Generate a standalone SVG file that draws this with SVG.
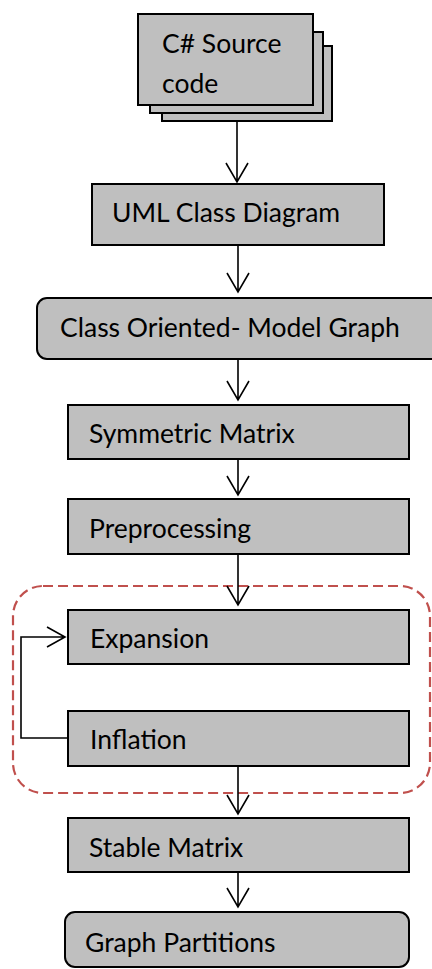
<svg xmlns="http://www.w3.org/2000/svg" width="432" height="969" viewBox="0 0 432 969">
  <style>
    .box { fill: #bfbfbf; stroke: #000; stroke-width: 2; }
    .lbl { font-family: Lato, "Open Sans", "Liberation Sans", sans-serif; font-size: 26.5px; fill: #000; }
    .wire { fill: none; stroke: #000; stroke-width: 1.6; }
    .loop { fill: none; stroke: #c0504d; stroke-width: 2.2; stroke-dasharray: 10 5; }
  </style>

  <!-- iteration group -->
  <rect class="loop" x="13" y="586" width="417" height="207" rx="30" ry="30"/>

  <!-- stacked source documents -->
  <g id="source">
    <rect class="box" x="162" y="46" width="170" height="75"/>
    <rect class="box" x="150" y="32" width="173" height="81"/>
    <rect class="box" x="138" y="14" width="175" height="91"/>
    <text class="lbl" x="162" y="53">C# Source</text>
    <text class="lbl" x="162" y="93">code</text>
  </g>

  <g id="uml">
    <rect class="box" x="92" y="184" width="292" height="61"/>
    <text class="lbl" x="112" y="222">UML Class Diagram</text>
  </g>

  <g id="model-graph">
    <rect class="box" x="37" y="298" width="410" height="61" rx="10" ry="10"/>
    <text class="lbl" x="60" y="337">Class Oriented- Model Graph</text>
  </g>

  <g id="symmetric">
    <rect class="box" x="68" y="405" width="341" height="54"/>
    <text class="lbl" x="89" y="443">Symmetric Matrix</text>
  </g>

  <g id="preprocessing">
    <rect class="box" x="68" y="499" width="341" height="55"/>
    <text class="lbl" x="89" y="538">Preprocessing</text>
  </g>

  <g id="expansion">
    <rect class="box" x="68" y="610" width="341" height="54"/>
    <text class="lbl" x="90" y="648">Expansion</text>
  </g>

  <g id="inflation">
    <rect class="box" x="68" y="711" width="341" height="55"/>
    <text class="lbl" x="90" y="749">Inflation</text>
  </g>

  <g id="stable">
    <rect class="box" x="68" y="818" width="341" height="54"/>
    <text class="lbl" x="89" y="857">Stable Matrix</text>
  </g>

  <g id="partitions">
    <rect class="box" x="65" y="912" width="344" height="55" rx="10" ry="10"/>
    <text class="lbl" x="85" y="952">Graph Partitions</text>
  </g>

  <!-- connectors with open chevron heads -->
  <g id="connectors">
    <path class="wire" d="M237 121 V182 M226 163 L237 182 L248 163"/>
    <path class="wire" d="M238 246 V292 M227 273 L238 292 L249 273"/>
    <path class="wire" d="M238 360 V400 M227 381 L238 400 L249 381"/>
    <path class="wire" d="M238 460 V495 M227 476 L238 495 L249 476"/>
    <path class="wire" d="M238 555 V605 M227 586 L238 605 L249 586"/>
    <path class="wire" d="M238 767 V814 M227 795 L238 814 L249 795"/>
    <path class="wire" d="M238 873 V907 M227 888 L238 907 L249 888"/>
    <path class="wire" d="M67 738 H21 V637 H65 M47 627 L65 637 L47 647"/>
  </g>
</svg>
